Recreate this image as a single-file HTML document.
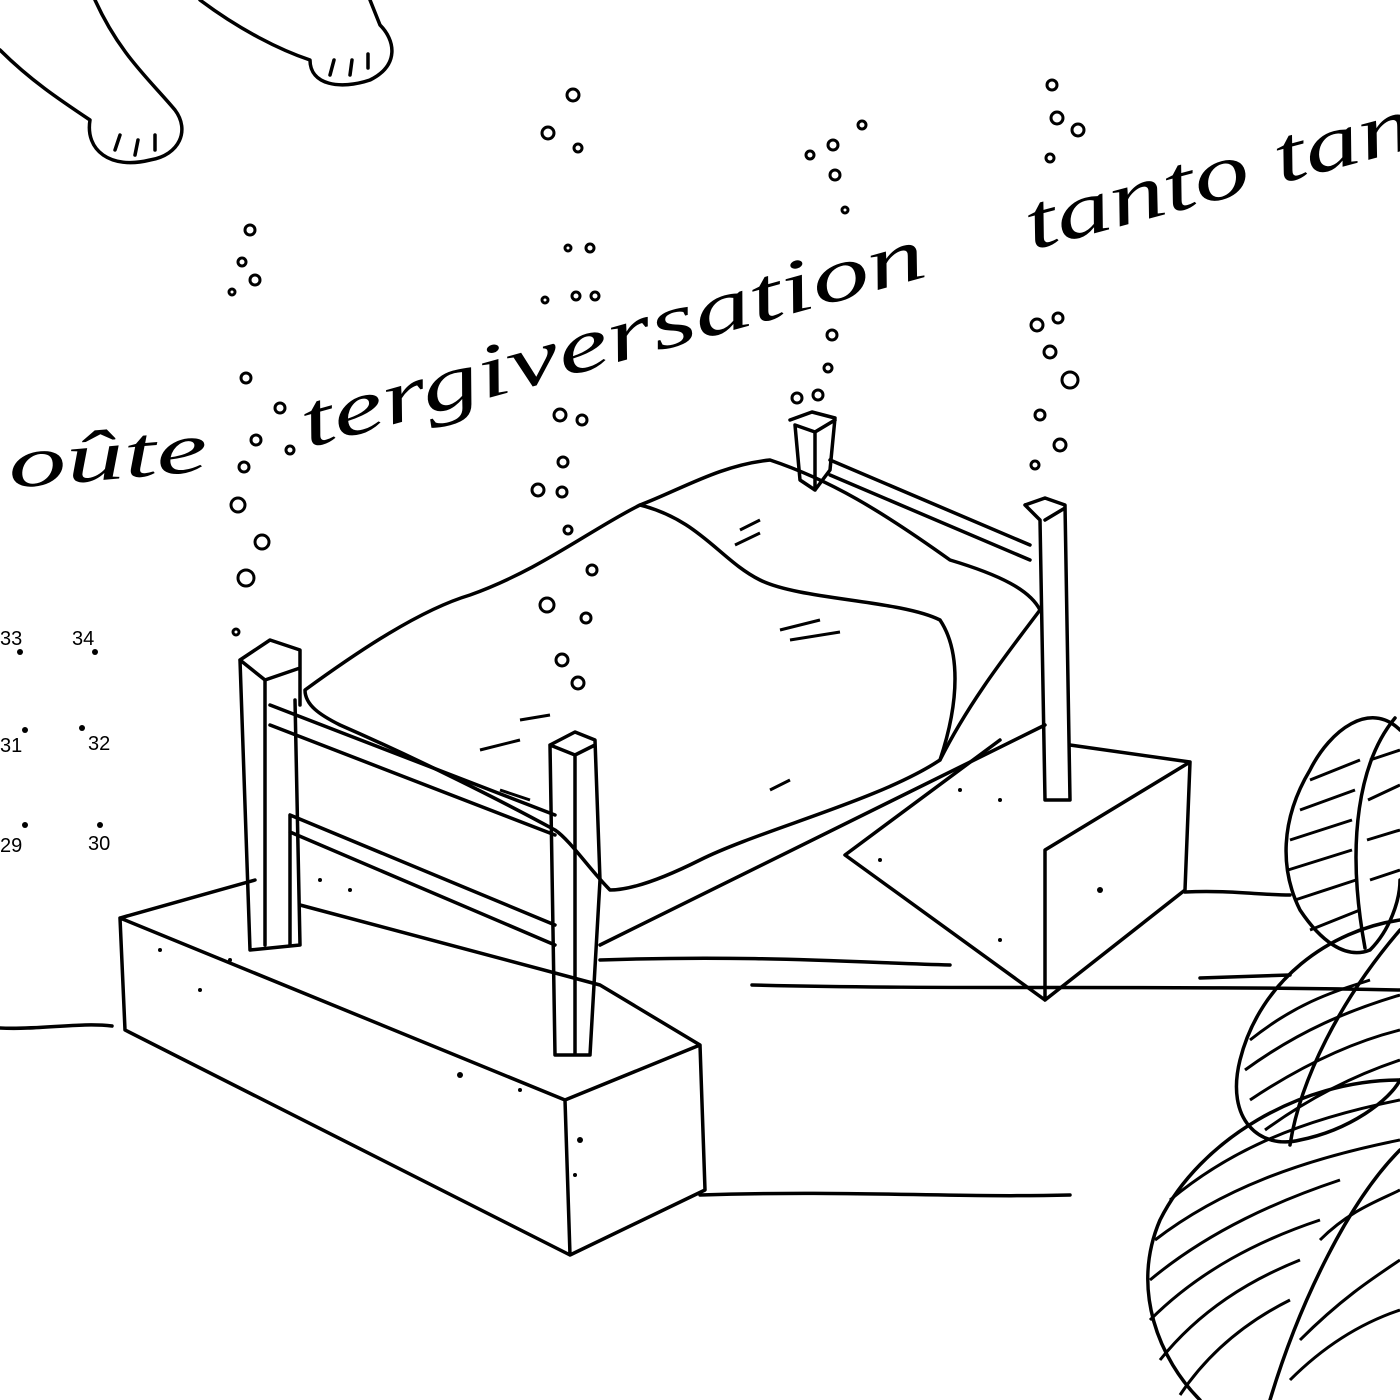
<!DOCTYPE html>
<html><head><meta charset="utf-8"><style>
html,body{margin:0;padding:0;background:#fff;}
svg{display:block}
.s{fill:none;stroke:#000;stroke-width:3.5;stroke-linecap:round;stroke-linejoin:round}
.t{font-family:"Liberation Serif",serif;font-style:italic;fill:#000}
.n{font-family:"Liberation Sans",sans-serif;font-size:20px;fill:#000}
.b{fill:none;stroke:#000;stroke-width:3}
</style></head><body>
<svg width="1400" height="1400" viewBox="0 0 1400 1400" xmlns="http://www.w3.org/2000/svg">
<rect width="1400" height="1400" fill="#fff"/>
<path class="s" d="M0 50 C30 80 60 100 90 120 C85 150 110 170 150 160 C180 155 190 130 175 110 C150 80 120 55 95 0"/>
<path class="s" d="M115 150 l5 -15 M135 155 l3 -15 M155 150 l0 -15"/>
<path class="s" d="M200 0 C240 30 280 50 310 60 C310 85 340 90 370 80 C400 65 395 40 380 25 L370 0"/>
<path class="s" d="M330 75 l4 -15 M350 75 l2 -15 M368 68 l0 -14"/>
<text class="t" x="10" y="488" font-size="72" textLength="200" lengthAdjust="spacingAndGlyphs" transform="rotate(-5 10 488)">oûte</text>
<text class="t" x="308" y="448" font-size="76" textLength="645" lengthAdjust="spacingAndGlyphs" transform="rotate(-15.5 308 448)">tergiversation</text>
<text class="t" x="1032" y="250" font-size="78" textLength="400" lengthAdjust="spacingAndGlyphs" transform="rotate(-15 1032 250)">tanto tan</text>
<text class="n" x="0" y="645">33</text><text class="n" x="72" y="645">34</text>
<text class="n" x="0" y="752">31</text><text class="n" x="88" y="750">32</text>
<text class="n" x="0" y="852">29</text><text class="n" x="88" y="850">30</text>
<g fill="#000"><circle cx="20" cy="652" r="3"/><circle cx="95" cy="652" r="3"/><circle cx="25" cy="730" r="3"/><circle cx="82" cy="728" r="3"/><circle cx="25" cy="825" r="3"/><circle cx="100" cy="825" r="3"/></g>
<path class="s" d="M0 1028 C40 1030 80 1022 112 1026"/>
<path class="s" d="M600 960 C750 955 850 962 950 965"/>
<path class="s" d="M752 985 C950 990 1150 985 1400 990"/>
<path class="s" d="M1185 892 C1230 890 1260 895 1290 895"/>
<path class="s" d="M700 1195 C850 1190 950 1198 1070 1195"/>
<path class="s" d="M1200 978 L1290 975"/>
<path class="s" d="M120 918 L255 880 M300 905 L600 985 L700 1045 L705 1190 L570 1255 L125 1030 L120 918 L565 1100 L700 1045 M565 1100 L570 1255"/>
<path class="s" d="M845 855 L1000 740 M1070 745 L1190 762 L1045 850 L1045 1000 L845 855 M1190 762 L1185 890 L1045 1000"/>
<path class="s" d="M240 660 L270 640 L300 650 L300 705 M240 660 L265 680 L300 668 M240 660 L250 950 L300 945 L295 700 M265 680 L265 945"/>
<path class="s" d="M550 745 L575 732 L595 740 L600 880 L590 1055 L555 1055 L550 745 L575 755 L595 745 M575 755 L575 1055"/>
<path class="s" d="M270 705 L555 815 M270 725 L555 835 M290 815 L555 925 M290 832 L555 945 M290 815 L290 945"/>
<path class="s" d="M790 420 L812 412 L835 418 L830 470 L815 490 L800 480 L795 425 L815 432 L835 420 M815 432 L815 490"/>
<path class="s" d="M1025 505 L1045 498 L1065 505 L1070 800 L1045 800 L1040 520 L1025 505 M1045 520 L1065 508"/>
<path class="s" d="M830 460 L1030 545 M830 475 L1030 560"/>
<path class="s" d="M600 945 L1045 725"/>
<path class="s" d="M305 690 C360 650 420 610 470 595 C540 570 590 530 640 505 C680 490 720 465 770 460 C830 480 880 510 950 560 C1000 575 1030 590 1040 610 C1010 650 970 700 940 760 C880 800 760 830 700 860 C660 880 630 890 610 890 C590 870 570 840 555 830 C500 800 420 760 340 725 C320 715 305 705 305 690 Z"/>
<path class="s" d="M640 505 C700 520 720 560 760 580 C800 600 900 600 940 620 C960 650 960 700 940 760"/>
<path class="b" d="M740 530 l20 -10 M735 545 l25 -12 M780 630 l40 -10 M790 640 l50 -8 M770 790 l20 -10 M520 720 l30 -5 M480 750 l40 -10 M500 790 l30 10"/>
<g class="b">
<circle cx="573" cy="95" r="6"/><circle cx="548" cy="133" r="6"/><circle cx="578" cy="148" r="4"/>
<circle cx="833" cy="145" r="5"/><circle cx="810" cy="155" r="4"/><circle cx="835" cy="175" r="5"/><circle cx="862" cy="125" r="4"/><circle cx="845" cy="210" r="3"/>
<circle cx="1052" cy="85" r="5"/><circle cx="1057" cy="118" r="6"/><circle cx="1078" cy="130" r="6"/><circle cx="1050" cy="158" r="4"/>
<circle cx="1037" cy="325" r="6"/><circle cx="1058" cy="318" r="5"/><circle cx="1050" cy="352" r="6"/><circle cx="1070" cy="380" r="8"/><circle cx="1040" cy="415" r="5"/><circle cx="1060" cy="445" r="6"/><circle cx="1035" cy="465" r="4"/>
<circle cx="250" cy="230" r="5"/><circle cx="242" cy="262" r="4"/><circle cx="255" cy="280" r="5"/><circle cx="232" cy="292" r="3"/>
<circle cx="246" cy="378" r="5"/><circle cx="256" cy="440" r="5"/><circle cx="244" cy="467" r="5"/><circle cx="238" cy="505" r="7"/><circle cx="262" cy="542" r="7"/><circle cx="246" cy="578" r="8"/><circle cx="236" cy="632" r="3"/>
<circle cx="280" cy="408" r="5"/><circle cx="290" cy="450" r="4"/>
<circle cx="568" cy="248" r="3"/><circle cx="590" cy="248" r="4"/><circle cx="576" cy="296" r="4"/><circle cx="595" cy="296" r="4"/><circle cx="545" cy="300" r="3"/>
<circle cx="560" cy="415" r="6"/><circle cx="582" cy="420" r="5"/><circle cx="563" cy="462" r="5"/><circle cx="538" cy="490" r="6"/><circle cx="562" cy="492" r="5"/><circle cx="568" cy="530" r="4"/><circle cx="592" cy="570" r="5"/><circle cx="547" cy="605" r="7"/><circle cx="586" cy="618" r="5"/><circle cx="562" cy="660" r="6"/><circle cx="578" cy="683" r="6"/>
<circle cx="832" cy="335" r="5"/><circle cx="828" cy="368" r="4"/><circle cx="818" cy="395" r="5"/><circle cx="797" cy="398" r="5"/>
</g>
<path class="s" d="M1400 730 C1370 700 1330 730 1310 770 C1280 820 1280 870 1300 910 C1320 940 1345 960 1370 950 C1390 930 1400 900 1400 880"/>
<path class="s" d="M1395 718 C1360 760 1345 840 1365 948"/>
<path class="b" d="M1310 780 L1360 760 M1300 810 L1355 790 M1290 840 L1352 820 M1288 870 L1352 850 M1295 900 L1356 880 M1310 930 L1360 910 M1370 760 L1400 750 M1368 800 L1400 785 M1367 840 L1400 830 M1370 880 L1400 870"/>
<path class="s" d="M1400 920 C1330 930 1260 980 1240 1060 C1225 1120 1260 1150 1300 1140 C1350 1130 1390 1100 1400 1080"/>
<path class="s" d="M1400 930 C1340 1000 1300 1080 1290 1145"/>
<path class="b" d="M1250 1040 C1300 1000 1340 990 1370 980 M1245 1070 C1300 1030 1350 1010 1400 995 M1250 1100 C1310 1060 1360 1040 1400 1030 M1265 1130 C1320 1090 1370 1070 1400 1060"/>
<path class="s" d="M1400 1080 C1300 1080 1200 1140 1160 1220 C1130 1290 1160 1360 1200 1400 M1270 1400 C1300 1300 1350 1200 1400 1150"/>
<path class="b" d="M1170 1200 C1230 1150 1300 1120 1400 1100 M1155 1240 C1220 1190 1300 1160 1400 1140 M1150 1280 C1210 1230 1280 1200 1340 1180 M1150 1320 C1200 1270 1260 1240 1320 1220 M1160 1360 C1200 1310 1250 1280 1300 1260 M1180 1395 C1210 1350 1250 1320 1290 1300 M1300 1340 C1340 1300 1370 1280 1400 1260 M1290 1380 C1330 1340 1370 1320 1400 1310 M1320 1240 C1350 1210 1380 1200 1400 1190"/>
<g fill="#000"><circle cx="160" cy="950" r="2"/><circle cx="200" cy="990" r="2"/><circle cx="230" cy="960" r="2"/><circle cx="320" cy="880" r="2"/><circle cx="350" cy="890" r="2"/><circle cx="520" cy="1090" r="2"/><circle cx="580" cy="1140" r="3"/><circle cx="575" cy="1175" r="2"/><circle cx="460" cy="1075" r="3"/><circle cx="960" cy="790" r="2"/><circle cx="1000" cy="800" r="2"/><circle cx="880" cy="860" r="2"/><circle cx="1100" cy="890" r="3"/><circle cx="1000" cy="940" r="2"/></g>
</svg>
</body></html>
